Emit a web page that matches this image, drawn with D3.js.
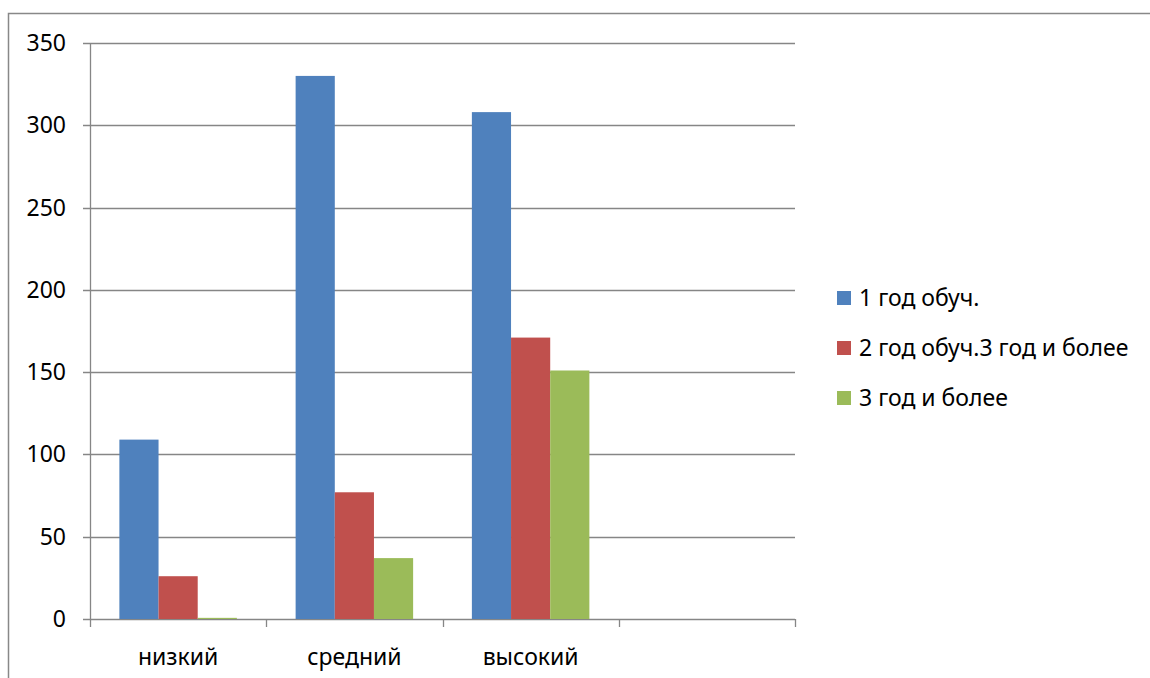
<!DOCTYPE html>
<html>
<head>
<meta charset="utf-8">
<script src="https://cdn.jsdelivr.net/npm/d3@7"></script>
<style>
  body { margin: 0; background: #fff; }
  text { font-family: "Noto Sans", "Open Sans", sans-serif; fill: #000; }
</style>
</head>
<body>
<svg id="chart" width="1150" height="678"></svg>
<script>
// chart data
const categories = ["низкий", "средний", "высокий", ""];
const seriesNames = ["1 год обуч.", "2 год обуч.3 год и более", "3 год и более"];
const year1 = [109, 330, 308, null];
const year2 = [26, 77, 171, null];
const year3 = [0.7, 37, 151, null];
const yTicks = [0, 50, 100, 150, 200, 250, 300, 350];
const colors = ["#4F81BD", "#C0504D", "#9BBB59"];

const svg = d3.select("#chart");
const series = [year1, year2, year3];

// outer frame (only top and left edges visible)
svg.append("path")
  .attr("d", "M8.5,678 L8.5,13.5 L1150,13.5")
  .attr("fill", "none")
  .attr("stroke", "#888")
  .attr("stroke-width", 1.5);

const plotLeft = 90, plotRight = 795, plotTop = 43, plotBottom = 619;

const x = d3.scaleBand()
  .domain(d3.range(categories.length))
  .range([plotLeft, plotRight]);

const y = d3.scaleLinear()
  .domain([0, 350])
  .range([plotBottom, plotTop]);

// gridlines + y tick labels
svg.selectAll("line.grid")
  .data(yTicks)
  .enter()
  .append("line")
  .attr("x1", plotLeft - 7)
  .attr("x2", plotRight)
  .attr("y1", d => Math.round(y(d)) + 0.5)
  .attr("y2", d => Math.round(y(d)) + 0.5)
  .attr("stroke", "#868686")
  .attr("stroke-width", 1.3);

svg.selectAll("text.ylab")
  .data(yTicks)
  .enter()
  .append("text")
  .attr("x", 66)
  .attr("y", d => y(d))
  .attr("dy", "0.35em")
  .attr("text-anchor", "end")
  .style("font-size", "23px")
  .text(d => d);

// y axis line
svg.append("line")
  .attr("x1", plotLeft + 0.5).attr("x2", plotLeft + 0.5)
  .attr("y1", plotTop).attr("y2", plotBottom)
  .attr("stroke", "#868686")
  .attr("stroke-width", 1.3);

// bars
const bw = x.bandwidth() / 4.5;
series.forEach((vals, s) => {
  svg.selectAll("rect.s" + s)
    .data(vals.map((v, i) => ({ v, i })).filter(d => d.v != null))
    .enter()
    .append("rect")
    .attr("x", d => x(d.i) + bw * 0.75 + s * bw)
    .attr("y", d => y(d.v))
    .attr("width", bw)
    .attr("height", d => plotBottom - y(d.v))
    .attr("fill", colors[s]);
});

// category ticks
const bounds = d3.range(categories.length + 1).map(i => plotLeft + i * x.bandwidth());
svg.selectAll("line.ctick")
  .data(bounds)
  .enter()
  .append("line")
  .attr("x1", d => Math.round(d) + 0.5)
  .attr("x2", d => Math.round(d) + 0.5)
  .attr("y1", plotBottom)
  .attr("y2", plotBottom + 8)
  .attr("stroke", "#868686")
  .attr("stroke-width", 1.3);

svg.selectAll("text.xlab")
  .data(categories)
  .enter()
  .append("text")
  .attr("x", (d, i) => x(i) + x.bandwidth() / 2)
  .attr("y", 665)
  .attr("text-anchor", "middle")
  .style("font-size", "23px")
  .text(d => d);

// legend
const legend = svg.selectAll("g.leg")
  .data(seriesNames)
  .enter()
  .append("g")
  .attr("transform", (d, i) => `translate(837, ${298 + i * 50})`);

legend.append("rect")
  .attr("x", 0).attr("y", -7)
  .attr("width", 14).attr("height", 14)
  .attr("fill", (d, i) => colors[i]);

legend.append("text")
  .attr("x", 22)
  .attr("y", 0)
  .attr("dy", "0.35em")
  .style("font-size", "23px")
  .text(d => d);
</script>
</body>
</html>
